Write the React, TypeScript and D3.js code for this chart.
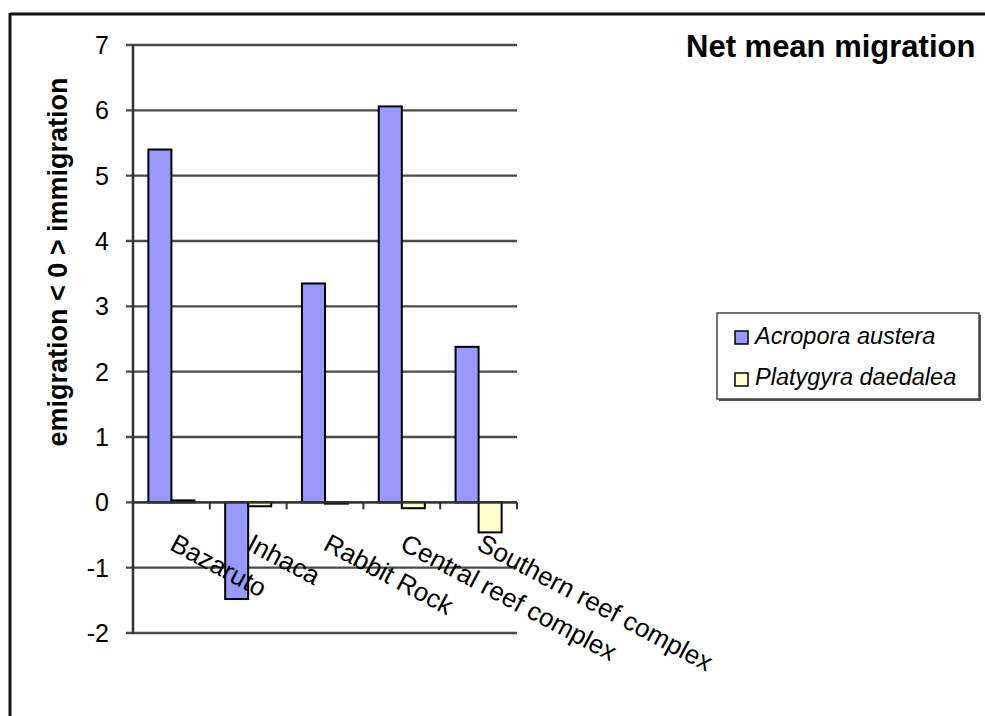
import React from "react";
import * as d3 from "d3";

// Site names along the category axis
const sites = ["Bazaruto", "Inhaca", "Rabbit Rock", "Central reef complex", "Southern reef complex"];
// Series names (coral species)
const species = ["Acropora austera", "Platygyra daedalea"];
// Net mean migration per site, one array per species
const acroporaValues = [5.4, -1.48, 3.35, 6.06, 2.38];
const platygyraValues = [0.03, -0.06, -0.02, -0.09, -0.46];
// Value axis ticks
const yTicks = [7, 6, 5, 4, 3, 2, 1, 0, -1, -2];

const seriesColors = ["#9999FF", "#FFFFCC"];
const FONT = "'Liberation Sans', Arial, Helvetica, sans-serif";

export default function App() {
  const width = 985;
  const height = 716;
  const left = 133;
  const right = 517;
  const top = 45;
  const bottom = 633;

  const y = d3.scaleLinear().domain([-2, 7]).range([bottom, top]);
  const x0 = d3.scaleBand<string>().domain(sites).range([left, right]).padding(0);
  const x1 = d3
    .scaleBand<string>()
    .domain(species)
    .range([0, x0.bandwidth()])
    .paddingInner(0)
    .paddingOuter(0.667);

  const seriesValues = [acroporaValues, platygyraValues];
  const zeroY = y(0);

  return (
    <svg
      width={width}
      height={height}
      style={{ position: "absolute", left: 0, top: 0, background: "#fff" }}
      fontFamily={FONT}
    >
      <rect x={0} y={0} width={width} height={height} fill="#fff" />
      {/* outer frame */}
      <line x1={10} y1={14} x2={width} y2={14} stroke="#111" strokeWidth={3} />
      <line x1={10} y1={13} x2={10} y2={height} stroke="#111" strokeWidth={3} />

      {/* title */}
      <text x={686} y={57} fontSize={31} fontWeight="bold" fill="#000">
        Net mean migration
      </text>

      {/* horizontal gridlines with tick stubs */}
      {yTicks.map((t) => (
        <g key={t}>
          <line x1={left - 7} x2={right} y1={y(t)} y2={y(t)} stroke="#4a4a4a" strokeWidth={2.4} />
          <text
            x={109}
            y={y(t)}
            dy="0.36em"
            textAnchor="end"
            fontSize={25}
            fill="#000"
          >
            {t}
          </text>
        </g>
      ))}

      {/* value axis */}
      <line x1={left} x2={left} y1={top} y2={bottom} stroke="#333" strokeWidth={2.5} />

      {/* y axis title */}
      <text
        transform={`translate(67,262) rotate(-90)`}
        textAnchor="middle"
        fontSize={27}
        fontWeight="bold"
        fill="#000"
      >
        {"emigration < 0 > immigration"}
      </text>

      {/* bars */}
      {sites.map((s, i) => (
        <g key={s}>
          {species.map((sp, j) => {
            const v = seriesValues[j][i];
            const bx = (x0(s) ?? 0) + (x1(sp) ?? 0);
            const by = Math.min(y(v), zeroY);
            const bh = Math.abs(y(v) - zeroY);
            return (
              <rect
                key={sp}
                x={bx}
                y={by}
                width={x1.bandwidth()}
                height={bh}
                fill={seriesColors[j]}
                stroke="#000"
                strokeWidth={2}
              />
            );
          })}
        </g>
      ))}

      {/* category axis on zero line */}
      <line x1={left} x2={right} y1={zeroY} y2={zeroY} stroke="#333" strokeWidth={2.4} />
      {d3.range(sites.length + 1).map((k) => {
        const tx = left + k * x0.step();
        return <line key={k} x1={tx} x2={tx} y1={zeroY} y2={zeroY + 7} stroke="#333" strokeWidth={2} />;
      })}

      {/* rotated category labels */}
      {sites.map((s) => {
        const cx = (x0(s) ?? 0) + x0.bandwidth() / 2;
        return (
          <text
            key={s}
            transform={`translate(${cx - 3},549) rotate(28)`}
            fontSize={26}
            fill="#000"
          >
            {s}
          </text>
        );
      })}

      {/* legend */}
      <rect x={719} y={315} width={262} height={86} fill="#555" />
      <rect x={717} y={313} width={262} height={86} fill="#fff" stroke="#444" strokeWidth={1.5} />
      {species.map((sp, j) => (
        <g key={sp}>
          <rect
            x={735}
            y={331 + j * 42}
            width={13}
            height={13}
            fill={seriesColors[j]}
            stroke="#000"
            strokeWidth={1.5}
          />
          <text x={755} y={344 + j * 41} fontSize={23.5} fontStyle="italic" fill="#000">
            {sp}
          </text>
        </g>
      ))}
    </svg>
  );
}
